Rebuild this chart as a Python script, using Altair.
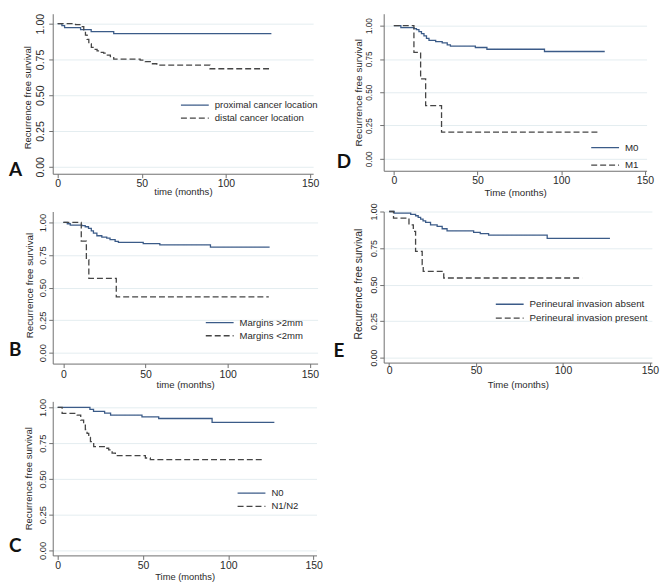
import altair as alt
import pandas as pd

# ---------------- data ----------------
XTICKS = [0, 50, 100, 150]
YTICKS = [0, 0.25, 0.5, 0.75, 1.0]

# A: cancer location
A_names = ["proximal cancer location", "distal cancer location"]
A_prox_t = [0, 2.5, 4.1, 13.6, 19.9, 33.3, 127]
A_prox_s = [1.0, 0.986, 0.972, 0.958, 0.944, 0.93, 0.93]
A_dist_t = [0, 10.6, 14.6, 15.5, 16.5, 17.5, 18.5, 20, 21.5, 23.4, 25.5, 27.3, 29.5,
            31.3, 33.3, 49, 52, 55, 58.9, 90.5, 126]
A_dist_s = [1.0, 0.993, 0.98, 0.95, 0.92, 0.89, 0.86, 0.835, 0.82, 0.81, 0.80, 0.794, 0.78,
            0.769, 0.752, 0.745, 0.735, 0.72, 0.71, 0.685, 0.685]

# B: margins
B_names = ["Margins >2mm", "Margins <2mm"]
B_gt_t = [0, 2.4, 4.2, 11.3, 13.3, 15.3, 17, 18.3, 20.4, 23.4, 26.4, 28.4, 31.5, 33.5,
          48.6, 58.7, 89.5, 125.5]
B_gt_s = [1.0, 0.99, 0.98, 0.975, 0.967, 0.955, 0.935, 0.918, 0.898, 0.888, 0.88, 0.868,
          0.855, 0.847, 0.837, 0.827, 0.81, 0.81]
B_lt_t = [0, 10.9, 14.0, 15.5, 32.2, 125]
B_lt_s = [1.0, 0.857, 0.714, 0.571, 0.429, 0.429]

# C: nodal status
C_names = ["N0", "N1/N2"]
C_n0_t = [0, 18.9, 21, 27.5, 31, 49.4, 59.2, 90.5, 127]
C_n0_s = [1.0, 0.985, 0.972, 0.96, 0.945, 0.933, 0.922, 0.895, 0.895]
C_n12_t = [0, 2.6, 11.4, 13.5, 15.2, 16.2, 17.2, 18.2, 19.2, 21.1, 27.9, 29.9, 31.9, 33.8,
           51.4, 54.3, 121]
C_n12_s = [1.0, 0.957, 0.945, 0.91, 0.876, 0.845, 0.818, 0.79, 0.76, 0.726, 0.714, 0.703,
           0.68, 0.662, 0.646, 0.634, 0.634]

# D: metastasis
D_names = ["M0", "M1"]
D_m0_t = [0, 4.2, 12, 13.5, 15, 16.5, 18, 19.5, 21, 25, 28.9, 31.9, 33.8, 48.7, 55.6, 90, 126]
D_m0_s = [1.0, 0.985, 0.978, 0.97, 0.955, 0.94, 0.923, 0.905, 0.89, 0.88, 0.87, 0.856,
          0.846, 0.836, 0.823, 0.806, 0.806]
D_m1_t = [0, 12, 16, 19, 28.5, 122]
D_m1_s = [1.0, 0.8, 0.6, 0.4, 0.2, 0.2]

# E: perineural invasion
E_names = ["Perineural invasion absent", "Perineural invasion present"]
E_abs_t = [0, 2.9, 12.4, 15.2, 16.7, 18.1, 19.5, 21, 23.8, 27.6, 30.5, 33.3, 48.6, 52.4,
           57.2, 90.9, 127]
E_abs_s = [1.0, 0.989, 0.98, 0.971, 0.96, 0.948, 0.936, 0.925, 0.909, 0.898, 0.882, 0.868,
           0.857, 0.848, 0.839, 0.816, 0.816]
E_pres_t = [0, 2.5, 11.4, 13.9, 15.2, 19.0, 19.6, 31.4, 111]
E_pres_s = [1.0, 0.955, 0.909, 0.864, 0.727, 0.636, 0.591, 0.545, 0.545]

# ---------------- styles ----------------
SANS = "Liberation Sans"
LETTER_FONT = "Lato"
SOLID = "#3b5b88"
DASH = "#454545"
AXIS = "#707070"
GRID = "#e4edf0"
TXT = "#2a2a2a"


def km_panel(letter, names, curves, xtitle, p):
    rows = []
    for name, (ts, ss) in zip(names, curves):
        for t, s in zip(ts, ss):
            rows.append({"t": t, "s": s, "series": name})
    df = pd.DataFrame(rows)

    legend = alt.Legend(
        title=None, orient="none", legendX=p["lx"], legendY=p["ly"],
        symbolType="stroke", symbolSize=784, symbolStrokeWidth=1.3,
        labelFont=SANS, labelFontSize=p["lfs"], labelColor=TXT, labelOffset=5,
        rowPadding=p["rp"], clipHeight=12, padding=0, labelLimit=400,
    )
    x = alt.X(
        "t:Q",
        scale=alt.Scale(domain=p["xd"], nice=False, zero=False),
        axis=alt.Axis(
            values=XTICKS, format="d", title=xtitle, grid=False,
            tickSize=4, tickColor=AXIS, domainColor=AXIS,
            labelFont=SANS, labelFontSize=10.5, labelColor=TXT,
            labelBaseline="middle", labelPadding=p["xlp"], labelFlush=False,
            titleFont=SANS, titleFontSize=p["xtfs"], titleFontWeight="normal",
            titleColor=TXT, titleBaseline="middle", titleY=p["xty"],
        ),
    )
    y = alt.Y(
        "s:Q",
        scale=alt.Scale(domain=p["yd"], nice=False, zero=False),
        axis=alt.Axis(
            values=YTICKS, format=".2f", title="Recurrence free survival",
            grid=True, gridColor=GRID, gridWidth=1,
            tickSize=4, tickColor=AXIS, domainColor=AXIS,
            labelFont=SANS, labelFontSize=p["ylfs"], labelColor=TXT,
            labelAngle=270, labelAlign="center", labelBaseline="middle",
            labelPadding=p["ylp"], labelOverlap=False, labelFlush=False,
            titleFont=SANS, titleFontSize=p["ytfs"], titleFontWeight="normal",
            titleColor=TXT, titleAngle=270, titleAlign="center",
            titleBaseline="middle", titleX=p["ytx"], titleY=p["yty"],
        ),
    )
    line = alt.Chart(df).mark_line(interpolate="step-after", strokeWidth=1.3).encode(
        x=x,
        y=y,
        color=alt.Color("series:N", scale=alt.Scale(domain=names, range=[SOLID, DASH]),
                        legend=legend),
        strokeDash=alt.StrokeDash("series:N",
                                  scale=alt.Scale(domain=names, range=[[1, 0], [6, 3]]),
                                  legend=legend),
    )
    lab = alt.Chart(pd.DataFrame({"letter": [letter]})).mark_text(
        font=LETTER_FONT, fontSize=19, fontWeight="bold", align="left",
        baseline="alphabetic", color="#111111",
    ).encode(text="letter:N", x=alt.value(p["lxp"]), y=alt.value(p["lyp"]))
    return alt.layer(line, lab).properties(width=p["w"], height=p["h"])


PA = dict(xd=[-2.95, 151.8], w=262, yd=[-0.0486, 1.0694], h=161, xlp=6, xty=18, xtfs=9.6,
          ylp=8, ylfs=10.6, ytfs=9.6, ytx=-25, yty=84, lx=128, ly=86, rp=1, lfs=9.6,
          lxp=-44, lyp=163)
PB = dict(xd=[-6.47, 154.7], w=266.5, yd=[-0.084, 1.084], h=153, xlp=7, xty=21, xtfs=9.6,
          ylp=6.3, ylfs=9.5, ytfs=9.8, ytx=-23.7, yty=74, lx=153, ly=105.7, rp=1.3, lfs=9.6,
          lxp=-44, lyp=145.7)
PC = dict(xd=[-2.91, 151.7], w=265.4, yd=[-0.0347, 1.0417], h=155, xlp=6, xty=21, xtfs=9.4,
          ylp=6.3, ylfs=9.5, ytfs=9.6, ytx=-24.2, yty=77.3, lx=185, ly=86.3, rp=1.4, lfs=9.6,
          lxp=-44, lyp=152)
PD = dict(xd=[-6.06, 151], w=264.5, yd=[-0.0896, 1.0896], h=158, xlp=6, xty=22, xtfs=9.8,
          ylp=10.5, ylfs=8.2, ytfs=10, ytx=-25.5, yty=79, lx=207.8, ly=128.7, rp=5.6, lfs=9.8,
          lxp=-47.2, lyp=155.7)
PE = dict(xd=[-3.14, 151.1], w=269.8, yd=[-0.034, 1.0], h=152, xlp=4, xty=21.7, xtfs=9.6,
          ylp=6.5, ylfs=8.8, ytfs=10.3, ytx=-25.5, yty=72.5, lx=111.8, ly=87.3, rp=2, lfs=9.8,
          lxp=-50.5, lyp=146.7)

A = km_panel("A", A_names, [(A_prox_t, A_prox_s), (A_dist_t, A_dist_s)], "time (months)", PA)
B = km_panel("B", B_names, [(B_gt_t, B_gt_s), (B_lt_t, B_lt_s)], "time (months)", PB)
C = km_panel("C", C_names, [(C_n0_t, C_n0_s), (C_n12_t, C_n12_s)], "Time (months)", PC)
D = km_panel("D", D_names, [(D_m0_t, D_m0_s), (D_m1_t, D_m1_s)], "Time (months)", PD)
E = km_panel("E", E_names, [(E_abs_t, E_abs_s), (E_pres_t, E_pres_s)], "Time (months)", PE)

chart = alt.concat(
    A, D, B, E, C, columns=2, spacing={"row": 38, "column": 66},
    bounds="flush", align="each",
).resolve_scale(
    color="independent", strokeDash="independent"
).properties(
    padding={"left": 0, "top": 3, "right": 0, "bottom": 0},
    background="white",
).configure_view(stroke="transparent")

chart.save("out.html", embed_options={"renderer": "svg", "actions": False})
